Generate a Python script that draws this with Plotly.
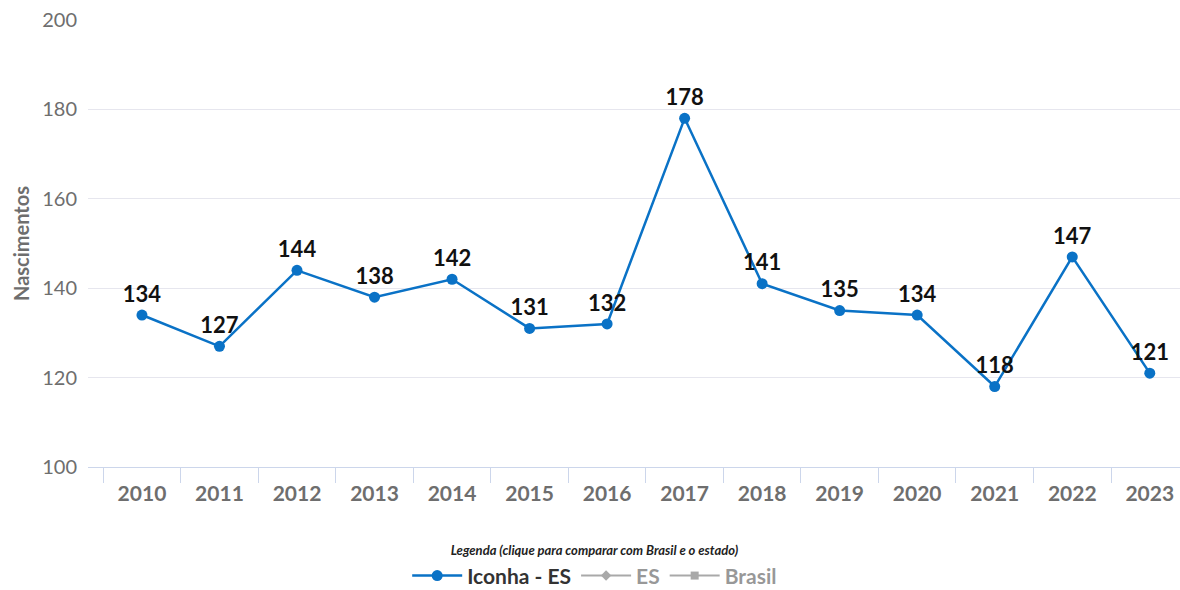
import plotly.graph_objects as go

anos = ["2010", "2011", "2012", "2013", "2014", "2015", "2016",
        "2017", "2018", "2019", "2020", "2021", "2022", "2023"]
nascimentos_iconha = [134, 127, 144, 138, 142, 131, 132, 178, 141, 135, 134, 118, 147, 121]
# séries de comparação: desligadas no gráfico original, valores não visíveis
nascimentos_es = [None] * len(anos)
nascimentos_brasil = [None] * len(anos)
y_ticks = [100, 120, 140, 160, 180, 200]

FONTE = "Lato"
AZUL = "#0a72c6"
CINZA = "#6e6e6e"

fig = go.Figure()

fig.add_trace(go.Scatter(
    x=anos, y=nascimentos_iconha,
    name="Iconha - ES",
    mode="lines+markers+text",
    line=dict(color=AZUL, width=2.5),
    marker=dict(color=AZUL, size=11),
    text=[str(v) for v in nascimentos_iconha],
    textposition="top center",
    textfont=dict(family=FONTE, size=22, color="#111111", weight="bold"),
    cliponaxis=False,
))

fig.add_trace(go.Scatter(
    x=anos, y=nascimentos_es, name="ES", mode="lines+markers",
    line=dict(color="#555555", width=2), marker=dict(symbol="diamond", size=8),
    visible="legendonly",
))
fig.add_trace(go.Scatter(
    x=anos, y=nascimentos_brasil, name="Brasil", mode="lines+markers",
    line=dict(color="#555555", width=2), marker=dict(symbol="square", size=8),
    visible="legendonly",
))

fig.update_layout(
    width=1180, height=590,
    margin=dict(l=88, r=0, t=20, b=123, autoexpand=False),
    plot_bgcolor="white", paper_bgcolor="white",
    font=dict(family=FONTE, color=CINZA),
    showlegend=True,
    legend=dict(
        orientation="h", x=0.464, xanchor="center", y=-0.16, yanchor="top",
        title=dict(text="<i>Legenda (clique para comparar com Brasil e o estado)</i>",
                   side="top center", font=dict(size=13, color="#222222")),
        font=dict(size=21, color="#333333", weight="bold"),
        itemwidth=50,
    ),
)

fig.update_xaxes(
    type="category",
    range=[-0.696, 13.39],
    tickson="boundaries",
    ticks="outside", ticklen=15, tickcolor="#ccd6eb", tickwidth=1,
    showline=True, linecolor="#ccd6eb", linewidth=1,
    showgrid=False,
    ticklabelstandoff=8,
    tickfont=dict(size=21, color=CINZA, weight="bold"),
)

fig.update_yaxes(
    range=[100, 200],
    tickvals=y_ticks,
    showgrid=True, gridcolor="#e6e6ee", gridwidth=1,
    zeroline=False,
    ticks="", ticklabelstandoff=10,
    tickfont=dict(size=20, color=CINZA),
    title=dict(text="Nascimentos", font=dict(size=20, color=CINZA, weight="bold"), standoff=7),
)

fig.write_html("out.html", config={"displayModeBar": False},
               post_script="document.body.style.margin='0';")
